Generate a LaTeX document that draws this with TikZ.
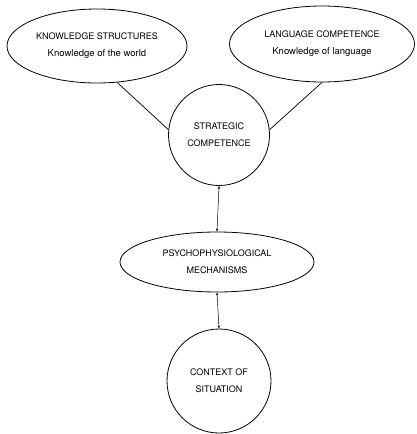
\documentclass[tikz,border=0pt]{standalone}
\usepackage{fontspec}
\setmainfont{TeX Gyre Heros}
\usepackage{tikz}
\usetikzlibrary{shapes.geometric,arrows.meta}
\tikzset{
  blob/.style={draw, ellipse, line width=0.8pt, align=center, inner sep=0pt},
  ring/.style={draw, circle, line width=0.8pt, align=center, inner sep=0pt},
  caps/.style={font=\fontsize{9}{17}\selectfont},
  link/.style={line width=0.7pt},
  twoway/.style={line width=0.5pt, {Stealth[length=3pt,width=2.2pt]}-{Stealth[length=3pt,width=2.2pt]}}
}
\newcommand{\sub}[1]{{\fontsize{9.5}{11}\selectfont #1}}
\begin{document}
\begin{tikzpicture}[x=1pt, y=-1pt]
		%%%%% START %%%%%
		\useasboundingbox (0, 0) rectangle (417, 434);
		
		\node[blob, caps, minimum width=180pt, minimum height=74pt] (know) at (97, 46)
			{KNOWLEDGE STRUCTURES\\\sub{Knowledge of the world}};
		\node[blob, caps, minimum width=185pt, minimum height=76pt] (lang) at (322, 44)
			{LANGUAGE COMPETENCE\\\sub{Knowledge of language}};
		
		\node[ring, caps, minimum size=101pt] (strat) at (219, 135)
			{STRATEGIC\\COMPETENCE};
		
		\node[blob, caps, minimum width=194pt, minimum height=60pt] (psych) at (217, 262)
			{PSYCHOPHYSIOLOGICAL\\MECHANISMS};
		
		\node[ring, caps, minimum size=104pt] (context) at (219, 381)
			{CONTEXT OF\\SITUATION};
		
		\draw[link] (know.-61) -- (strat.174);
		\draw[link] (lang.-90) -- (strat.6);
		\draw[twoway] (strat.south) -- (psych.north);
		\draw[twoway] (psych.south) -- (context.north);
		%%%%% END %%%%%
	\end{tikzpicture}
\end{document}
